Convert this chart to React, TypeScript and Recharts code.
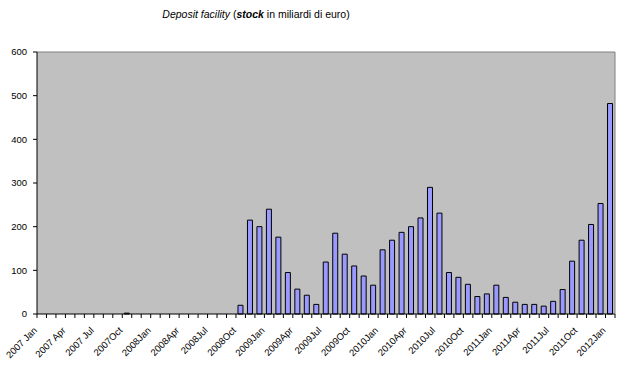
import React from "react";
import { BarChart, Bar, XAxis, YAxis, CartesianGrid, ReferenceLine } from "recharts";

const categories: string[] = [
  "2007 Jan", "2007 Feb", "2007 Mar", "2007 Apr", "2007 May", "2007 Jun", "2007 Jul", "2007 Aug", "2007 Sep", "2007Oct", "2007 Nov", "2007 Dec",
  "2008Jan", "2008Feb", "2008Mar", "2008Apr", "2008May", "2008Jun", "2008Jul", "2008Aug", "2008Sep", "2008Oct", "2008Nov", "2008Dec",
  "2009Jan", "2009Feb", "2009Mar", "2009Apr", "2009May", "2009Jun", "2009Jul", "2009Aug", "2009Sep", "2009Oct", "2009Nov", "2009Dec",
  "2010Jan", "2010Feb", "2010Mar", "2010Apr", "2010May", "2010Jun", "2010Jul", "2010Aug", "2010Sep", "2010Oct", "2010Nov", "2010Dec",
  "2011Jan", "2011Feb", "2011Mar", "2011Apr", "2011May", "2011Jun", "2011Jul", "2011Aug", "2011Sep", "2011Oct", "2011Nov", "2011Dec",
  "2012Jan",
];

const depositValues: number[] = [
  0, 0, 0, 0, 0, 0, 0, 0, 0, 2, 0, 0,
  0, 0, 0, 0, 0, 0, 0, 0, 0, 20, 215, 200,
  240, 176, 95, 57, 43, 22, 119, 185, 137, 110, 87, 66,
  147, 169, 187, 200, 220, 290, 231, 95, 84, 68, 40, 46,
  66, 38, 27, 22, 22, 18, 29, 56, 121, 169, 205, 253,
  482,
];

const shownTickLabels: string[] = [
  "2007 Jan", "2007 Apr", "2007 Jul", "2007Oct", "2008Jan", "2008Apr", "2008Jul", "2008Oct",
  "2009Jan", "2009Apr", "2009Jul", "2009Oct", "2010Jan", "2010Apr", "2010Jul", "2010Oct",
  "2011Jan", "2011Apr", "2011Jul", "2011Oct", "2012Jan",
];

const yTicks: number[] = [0, 100, 200, 300, 400, 500, 600];
const gridValues: number[] = [100, 200, 300, 400, 500];

const data = categories.map((c, i) => ({ month: c, value: depositValues[i] }));

const FONT = "'Liberation Sans', Arial, sans-serif";
const PLOT_LEFT = 37;
const PLOT_RIGHT = 616;
const BAND = (PLOT_RIGHT - PLOT_LEFT) / categories.length;

const XTick = (props: any) => {
  const { x, y, index } = props;
  const left = x - BAND / 2;
  const text = index % 3 === 0 ? shownTickLabels[index / 3] : null;
  return (
    <g>
      <line x1={left} x2={left} y1={y} y2={y + 4} stroke="#000" strokeWidth={1} />
      {index === categories.length - 1 && (
        <line x1={x + BAND / 2} x2={x + BAND / 2} y1={y} y2={y + 4} stroke="#000" strokeWidth={1} />
      )}
      {text && (
        <text
          x={x - 4}
          y={y + 17}
          textAnchor="end"
          fontSize={9.5}
          fontFamily={FONT}
          fill="#000"
          transform={`rotate(-45, ${x - 4}, ${y + 17})`}
        >
          {text}
        </text>
      )}
    </g>
  );
};

export default function App() {
  return (
    <div style={{ position: "absolute", left: 0, top: 0, width: 626, height: 371, background: "#fff" }}>
      <svg width={626} height={30} style={{ position: "absolute", left: 0, top: 0 }}>
        <text x={256} y={18} textAnchor="middle" fontSize={10.5} fontFamily={FONT} fill="#000">
          <tspan fontStyle="italic">Deposit facility</tspan>
          <tspan> (</tspan>
          <tspan fontStyle="italic" fontWeight="bold">stock</tspan>
          <tspan> in miliardi di euro)</tspan>
        </text>
      </svg>
      <div style={{ position: "absolute", left: 0, top: 0 }}>
        <BarChart
          width={626}
          height={371}
          data={data}
          margin={{ top: 52, right: 10, bottom: 0, left: 0 }}
          barSize={5}
        >
          <CartesianGrid
            vertical={false}
            horizontalValues={gridValues}
            stroke="#000"
            fill="#c0c0c0"
            fillOpacity={1}
          />
          <XAxis
            dataKey="month"
            interval={0}
            height={57}
            tickLine={false}
            tickSize={0}
            tickMargin={0}
            axisLine={{ stroke: "#000" }}
            tick={<XTick />}
          />
          <YAxis
            yAxisId="left"
            domain={[0, 600]}
            ticks={yTicks}
            width={37}
            tickSize={4}
            tickMargin={6}
            axisLine={{ stroke: "#000" }}
            tickLine={{ stroke: "#000" }}
            tick={{ fontSize: 9.5, fontFamily: FONT, fill: "#000" }}
            interval={0}
          />
          <YAxis
            yAxisId="right"
            orientation="right"
            domain={[0, 600]}
            width={1}
            tick={false}
            tickLine={false}
            axisLine={{ stroke: "#808080" }}
          />
          <ReferenceLine yAxisId="left" y={600} stroke="#808080" />
          <Bar
            yAxisId="left"
            dataKey="value"
            fill="#9999ff"
            stroke="#000"
            strokeWidth={1}
            isAnimationActive={false}
          />
        </BarChart>
      </div>
    </div>
  );
}
